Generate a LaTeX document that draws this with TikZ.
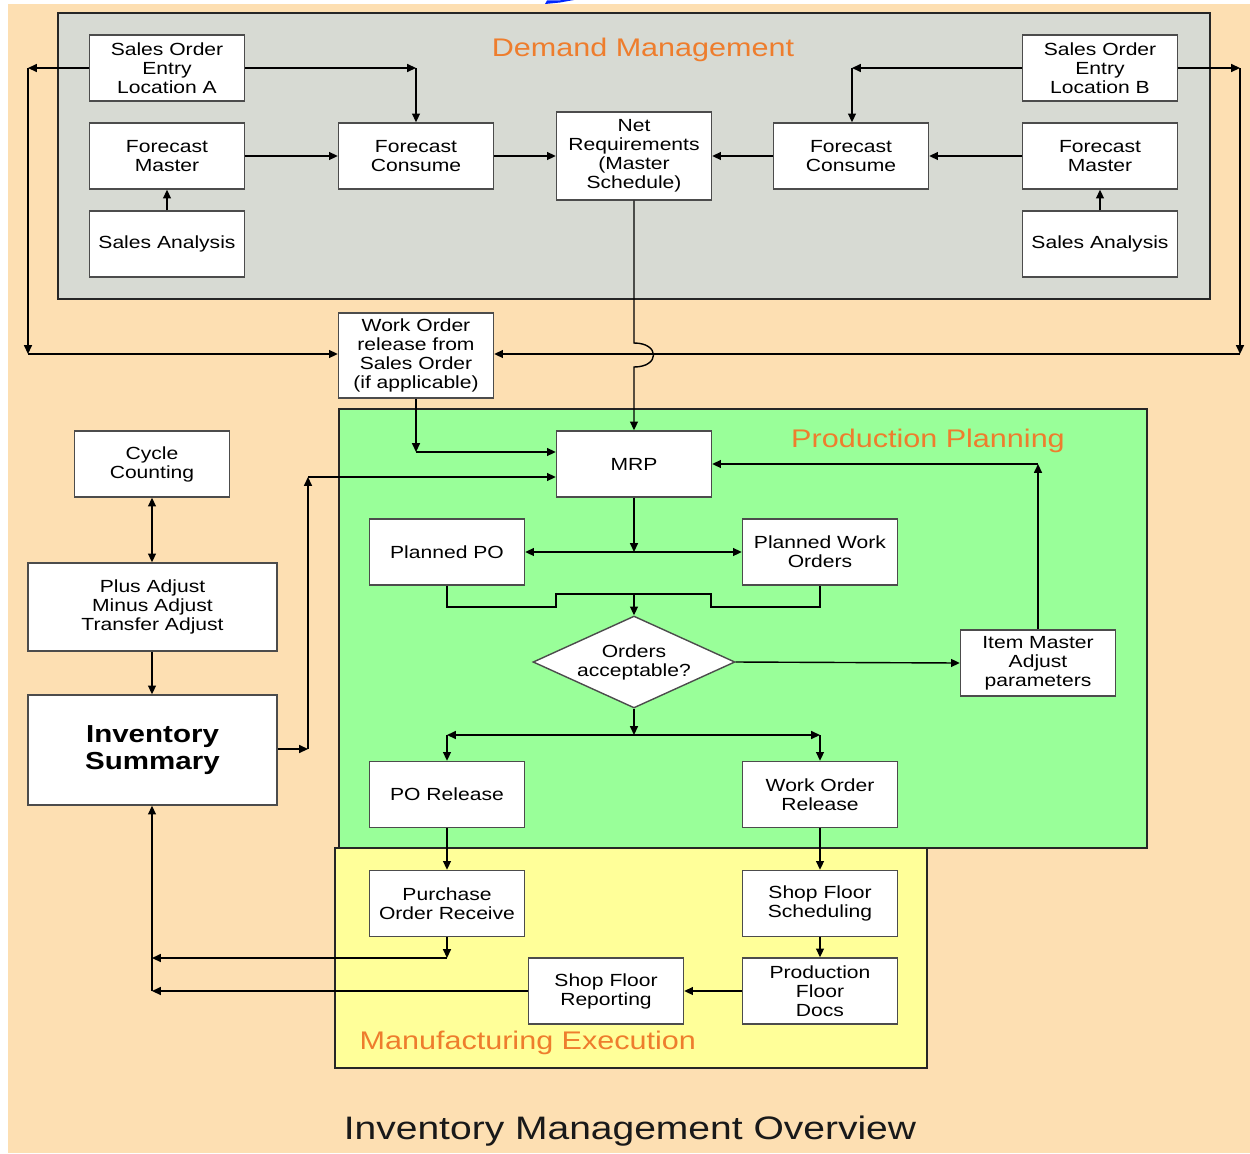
\documentclass[tikz,border=0pt]{standalone}
\usepackage{fontspec}
\setmainfont{Liberation Sans}[FakeStretch=1.2]
\usetikzlibrary{arrows.meta,shapes.geometric}
\definecolor{peach}{RGB}{253,223,178}
\definecolor{demgray}{RGB}{215,218,211}
\definecolor{plangreen}{RGB}{153,255,153}
\definecolor{exeyellow}{RGB}{255,255,153}
\definecolor{headorange}{RGB}{238,125,45}

\begin{document}
\begin{tikzpicture}[x=0.02cm,y=-0.02cm,line width=0.8pt,
  >={Triangle[length=5pt,width=4.5pt]},
  box/.style={draw=black!70,fill=white,minimum width=3.1cm,minimum height=1.32cm,
    align=center,inner sep=1pt,font=\fontsize{10}{10.8}\selectfont},
  zone/.style={draw=black!85,line width=1.6pt},
  head/.style={text=headorange,font=\fontsize{14.5}{16}\selectfont}]

\useasboundingbox (0,0) rectangle (1250,1153);
\fill[peach] (8,4) rectangle (1250,1153);
\fill[blue!85!cyan] (545,4) -- (547,0.5) -- (574,0) -- (560,2.5) -- cycle;

\draw[zone,fill=demgray] (58,13) rectangle (1210,299);
\draw[zone,fill=plangreen] (339,409) rectangle (1147,848);
\draw[zone,fill=exeyellow] (335,848) rectangle (927,1068);

\node[head] (demand) at (643,50) {Demand Management};
\node[head] (planning) at (928,441) {Production Planning};
\node[head,anchor=west] (execution) at (353,1043) {Manufacturing Execution};
\node[font=\fontsize{18.5}{20}\selectfont,text=black!90] (title) at (630,1131) {Inventory Management Overview};

\node[box] (soeA) at (167,68) {Sales Order\\Entry\\Location A};
\node[box] (fmA) at (167,156) {Forecast\\Master};
\node[box] (saA) at (167,244) {Sales Analysis};
\node[box] (fcA) at (416,156) {Forecast\\Consume};
\node[box,minimum height=1.76cm] (net) at (634,156) {Net\\Requirements\\(Master\\Schedule)};
\node[box] (fcB) at (851,156) {Forecast\\Consume};
\node[box] (soeB) at (1100,68) {Sales Order\\Entry\\Location B};
\node[box] (fmB) at (1100,156) {Forecast\\Master};
\node[box] (saB) at (1100,244) {Sales Analysis};

\node[box,minimum height=1.7cm] (wosr) at (416,355.5) {Work Order\\release from\\Sales Order\\(if applicable)};

\node[box] (mrp) at (634,464) {MRP};
\node[box] (ppo) at (447,552) {Planned PO};
\node[box] (pwo) at (820,552) {Planned Work\\Orders};
\node[draw=black!70,fill=white,shape=diamond,shape aspect=2.2,inner sep=0pt,
  minimum width=4.04cm,minimum height=1.84cm,align=center,
  font=\fontsize{10}{10.8}\selectfont] (dec) at (634,662) {Orders\\acceptable?};
\node[box] (item) at (1038,663) {Item Master\\Adjust\\parameters};
\node[box] (poRel) at (447,794.5) {PO Release};
\node[box] (woRel) at (820,794.5) {Work Order\\Release};

\node[box] (poRec) at (447,903.5) {Purchase\\Order Receive};
\node[box] (sfs) at (820,903.5) {Shop Floor\\Scheduling};
\node[box] (pfd) at (820,991) {Production\\Floor\\Docs};
\node[box] (sfr) at (606,991) {Shop Floor\\Reporting};

\node[box] (cyc) at (152,464) {Cycle\\Counting};
\node[box,minimum width=4.98cm,minimum height=1.76cm] (adj) at (152.5,607) {Plus Adjust\\Minus Adjust\\Transfer Adjust};
\node[box,minimum width=4.98cm,minimum height=2.2cm,font=\fontsize{14}{15}\bfseries] (inv) at (152.5,750) {Inventory\\Summary};

\coordinate (lt) at (28,68);
\coordinate (lb) at (28,354);
\coordinate (rt) at (1240,68);
\coordinate (rb) at (1240,354);
\coordinate (ca) at (416,68);
\coordinate (cb) at (852,68);
\coordinate (jt) at (634,343);
\coordinate (jb) at (634,367);

\draw[->] (soeA.west) -- (lt);
\draw[->] (lt) -- (lb);
\draw[->] (lb) -- (wosr.west |- lb);
\draw[->] (soeA.east |- ca) -- (ca);
\draw[->] (ca) -- (fcA.north);
\draw[->] (fmA) -- (fcA);
\draw[->] (fcA) -- (net);
\draw[->] (saA) -- (fmA);
\draw[->] (soeB.west) -- (cb);
\draw[->] (cb) -- (fcB.north -| cb);
\draw[->] (fmB) -- (fcB);
\draw[->] (fcB) -- (net);
\draw[->] (saB) -- (fmB);
\draw[->] (soeB.east) -- (rt);
\draw[->] (rt) -- (rb);
\draw[->] (rb) -- (wosr.east |- rb);
\draw[->] (net.south) -- (jt) .. controls (660,343) and (660,367) .. (jb) -- (mrp.north);

\coordinate (wm) at (416,452);
\draw[->] (wosr.south) -- (wm);
\draw[->] (wm) -- (mrp.west |- wm);
\coordinate (ir) at (308,749);
\coordinate (iu) at (308,477);
\draw[->] (inv.east |- ir) -- (ir);
\draw[->] (ir) -- (iu);
\draw[->] (iu) -- (mrp.west |- iu);

\coordinate (im) at (1038,464);
\draw[->] (item.north) -- (im);
\draw[->] (im) -- (mrp.east);

\coordinate (ms) at (634,552);
\draw[->] (mrp.south) -- (ms);
\draw[->] (ms) -- (ppo.east);
\draw[->] (ms) -- (pwo.west);
\coordinate (mj) at (634,594);
\draw (ppo.south) -- (447,607) -- (556,607) -- (556,594) -- (711,594) -- (711,607) -- (820,607) -- (pwo.south);
\draw[->] (mj) -- (dec.north);
\draw[->] (dec.east) -- (item.west);

\coordinate (ds) at (634,735);
\coordinate (dl) at (447,735);
\coordinate (dr) at (820,735);
\draw[->] (dec.south) -- (ds);
\draw[->] (ds) -- (dl);
\draw[->] (ds) -- (dr);
\draw[->] (dl) -- (poRel.north);
\draw[->] (dr) -- (woRel.north);

\draw[->] (poRel) -- (poRec);
\draw[->] (woRel) -- (sfs);
\draw[->] (sfs) -- (pfd);
\draw[->] (pfd) -- (sfr);
\coordinate (pr) at (447,958);
\coordinate (ib1) at (152,958);
\coordinate (ib2) at (152,991);
\draw[->] (poRec.south) -- (pr);
\draw[->] (pr) -- (ib1);
\draw[->] (sfr.west) -- (ib2);
\draw[->] (ib2) -- (inv.south -| ib2);

\draw[<->] (cyc) -- (adj.north -| cyc);
\draw[->] (adj.south -| cyc) -- (inv.north -| cyc);
\end{tikzpicture}
\end{document}
